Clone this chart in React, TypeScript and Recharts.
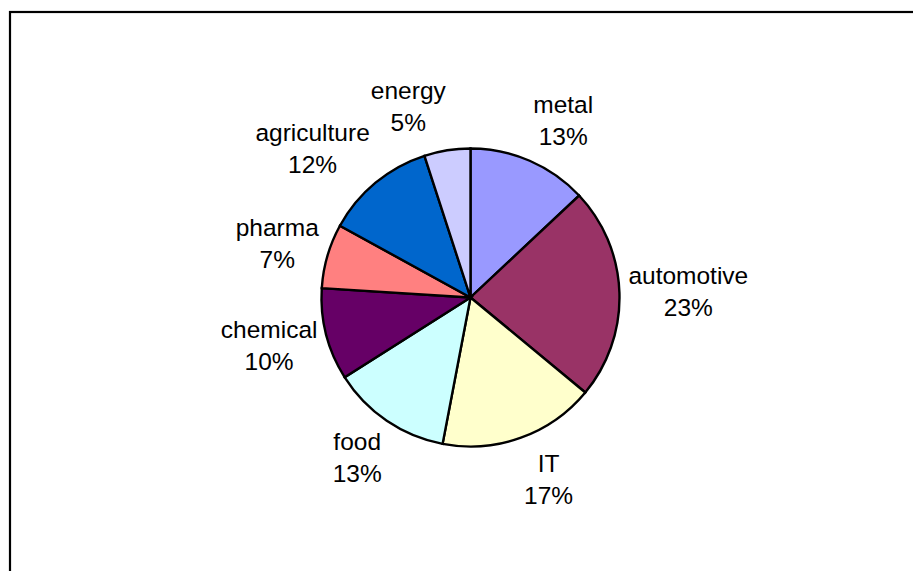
import React from "react";
import { PieChart, Pie, Cell } from "recharts";

const sectors = ["metal", "automotive", "IT", "food", "chemical", "pharma", "agriculture", "energy"];
const shares = [13, 23, 17, 13, 10, 7, 12, 5];
const colors = ["#9999FF", "#993366", "#FFFFCC", "#CCFFFF", "#660066", "#FF8080", "#0066CC", "#CCCCFF"];

const data = sectors.map((name, i) => ({ name, value: shares[i] }));

const FONT_SIZE = 24.5;
const LINE = 32;
const FONT = "'Liberation Sans', Arial, sans-serif";

let ctx: CanvasRenderingContext2D | null = null;
function measure(s: string): number {
  if (!ctx) {
    const c = document.createElement("canvas");
    ctx = c.getContext("2d");
  }
  if (!ctx) return s.length * FONT_SIZE * 0.55;
  ctx.font = `${FONT_SIZE}px ${FONT}`;
  return ctx.measureText(s).width;
}

const RAD = Math.PI / 180;

const renderLabel = (props: any) => {
  const { cx, cy, midAngle, outerRadius, name, value } = props;
  const ux = Math.cos(-midAngle * RAD);
  const uy = Math.sin(-midAngle * RAD);
  const l1 = String(name);
  const l2 = `${value}%`;
  const w = Math.max(measure(l1), measure(l2));
  const h = LINE * 2;
  const gx = outerRadius + 9;
  const gy = outerRadius + 12;
  const x = cx + gx * ux + Math.sign(ux) * (w / 2);
  const y = cy + gy * uy + uy * (h / 2);
  return (
    <text
      x={x}
      y={y}
      textAnchor="middle"
      fontFamily={FONT}
      fontSize={FONT_SIZE}
      fill="#000"
    >
      <tspan x={x} y={y - LINE / 2 + 8.5}>{l1}</tspan>
      <tspan x={x} y={y + LINE / 2 + 8.5}>{l2}</tspan>
    </text>
  );
};

export default function App() {
  return (
    <div style={{ width: 905, height: 563, position: "relative" }}>
      <svg
        width={905}
        height={563}
        style={{ position: "absolute", left: 0, top: 0 }}
      >
        <rect x={2} y={4} width={2000} height={2000} fill="#fff" stroke="#000" strokeWidth={2.2} />
      </svg>
      <div style={{ position: "absolute", left: 0, top: 0 }}>
        <PieChart width={905} height={563} margin={{ top: 0, right: 0, bottom: 0, left: 0 }}>
          <Pie
            data={data}
            dataKey="value"
            nameKey="name"
            cx={462.5}
            cy={289.5}
            outerRadius={149}
            startAngle={90}
            endAngle={-270}
            stroke="#000"
            strokeWidth={2.4}
            label={renderLabel}
            labelLine={false}
            isAnimationActive={false}
          >
            {data.map((d, i) => (
              <Cell key={d.name} fill={colors[i]} />
            ))}
          </Pie>
        </PieChart>
      </div>
    </div>
  );
}
